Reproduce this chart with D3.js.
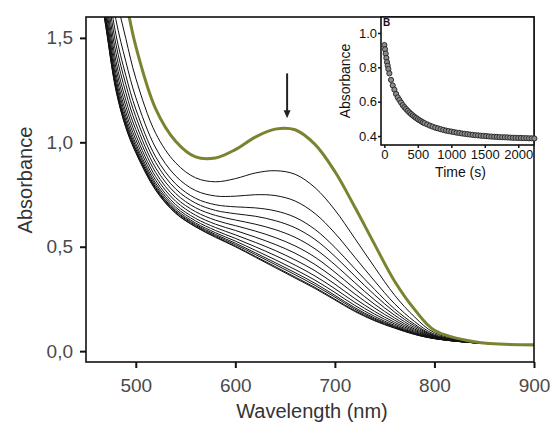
<!DOCTYPE html>
<html>
<head>
<meta charset="utf-8">
<script src="https://cdn.jsdelivr.net/npm/d3@7"></script>
<style>
  body { margin: 0; background: #fff; }
  svg { display: block; }
</style>
</head>
<body>
<svg id="chart" width="553" height="428"></svg>
<script>
// wavelength grid (nm) shared by every spectrum
const wavelengths = [460, 470, 480, 490, 500, 520, 540, 560, 580, 600, 620, 640, 660, 680, 700, 720, 740, 760, 780, 800, 840, 900];

// first spectrum (olive)
const initialSpectrum = [2.55, 2.2, 1.9, 1.68, 1.46, 1.16, 1.005, 0.93, 0.925, 0.965, 1.025, 1.063, 1.06, 0.99, 0.86, 0.69, 0.51, 0.335, 0.2, 0.1, 0.045, 0.03];

// following spectra, in time order (black)
const decaySpectra = [
  [2.34, 2.005, 1.705, 1.497, 1.307, 1.043, 0.902, 0.83, 0.811, 0.826, 0.853, 0.864, 0.847, 0.783, 0.676, 0.54, 0.401, 0.268, 0.164, 0.088, 0.044, 0.029],
  [2.214, 1.888, 1.588, 1.387, 1.215, 0.973, 0.839, 0.769, 0.743, 0.742, 0.749, 0.745, 0.719, 0.659, 0.565, 0.45, 0.335, 0.227, 0.142, 0.081, 0.043, 0.029],
  [2.137, 1.817, 1.517, 1.32, 1.159, 0.93, 0.801, 0.732, 0.701, 0.691, 0.686, 0.672, 0.641, 0.583, 0.497, 0.395, 0.295, 0.202, 0.129, 0.076, 0.042, 0.029],
  [2.088, 1.771, 1.471, 1.277, 1.123, 0.903, 0.777, 0.709, 0.674, 0.658, 0.646, 0.625, 0.591, 0.535, 0.454, 0.36, 0.269, 0.187, 0.121, 0.074, 0.042, 0.029],
  [2.043, 1.729, 1.429, 1.238, 1.09, 0.877, 0.755, 0.687, 0.65, 0.628, 0.608, 0.582, 0.545, 0.49, 0.414, 0.328, 0.245, 0.172, 0.113, 0.071, 0.041, 0.029],
  [2.002, 1.691, 1.391, 1.202, 1.061, 0.855, 0.735, 0.668, 0.627, 0.601, 0.575, 0.544, 0.504, 0.45, 0.378, 0.299, 0.224, 0.159, 0.106, 0.069, 0.041, 0.028],
  [1.967, 1.659, 1.359, 1.172, 1.035, 0.835, 0.718, 0.651, 0.608, 0.578, 0.546, 0.511, 0.469, 0.415, 0.348, 0.274, 0.206, 0.148, 0.1, 0.067, 0.041, 0.028],
  [1.936, 1.63, 1.33, 1.145, 1.013, 0.818, 0.702, 0.636, 0.592, 0.557, 0.521, 0.482, 0.437, 0.385, 0.321, 0.252, 0.19, 0.138, 0.095, 0.065, 0.04, 0.028],
  [1.911, 1.607, 1.307, 1.123, 0.994, 0.804, 0.69, 0.624, 0.578, 0.54, 0.5, 0.458, 0.412, 0.36, 0.299, 0.234, 0.177, 0.13, 0.09, 0.063, 0.04, 0.028],
  [1.891, 1.588, 1.288, 1.105, 0.98, 0.793, 0.68, 0.614, 0.567, 0.527, 0.483, 0.438, 0.391, 0.34, 0.281, 0.219, 0.166, 0.123, 0.087, 0.062, 0.04, 0.028],
  [1.875, 1.573, 1.273, 1.092, 0.968, 0.784, 0.672, 0.607, 0.559, 0.517, 0.471, 0.424, 0.376, 0.325, 0.267, 0.208, 0.158, 0.118, 0.084, 0.061, 0.04, 0.028],
  [1.865, 1.564, 1.264, 1.083, 0.961, 0.779, 0.668, 0.602, 0.553, 0.51, 0.463, 0.415, 0.366, 0.315, 0.259, 0.201, 0.153, 0.115, 0.083, 0.061, 0.04, 0.028],
  [1.855, 1.555, 1.255, 1.074, 0.954, 0.773, 0.662, 0.597, 0.548, 0.503, 0.454, 0.405, 0.355, 0.305, 0.249, 0.194, 0.148, 0.112, 0.081, 0.06, 0.04, 0.028],
  [1.85, 1.55, 1.25, 1.07, 0.95, 0.77, 0.66, 0.595, 0.545, 0.5, 0.45, 0.4, 0.35, 0.3, 0.245, 0.19, 0.145, 0.11, 0.08, 0.06, 0.04, 0.028]
];

// arrow over the band maximum: [wavelength, top absorbance, tip absorbance]
const arrowMark = [652, 1.33, 1.115];

// inset: absorbance vs time
const kineticTimes = [0, 10, 20, 30, 40, 50, 60, 75, 100, 125, 150, 175, 200, 225, 250, 275, 300, 325, 350, 375, 400, 425, 450, 475, 500, 525, 550, 575, 600,
  640, 680, 720, 760, 800, 840, 880, 920, 960, 1000, 1040, 1080, 1120, 1160, 1200, 1240, 1280, 1320, 1360, 1400, 1440, 1480, 1520, 1560, 1600,
  1640, 1680, 1720, 1760, 1800, 1840, 1880, 1920, 1960, 2000, 2040, 2080, 2120, 2160, 2200, 2240];
const kineticAbs = [0.93, 0.905, 0.88, 0.855, 0.83, 0.81, 0.79, 0.765, 0.727, 0.695, 0.67, 0.645, 0.625, 0.61, 0.595, 0.58, 0.568, 0.557, 0.547, 0.537, 0.528, 0.52, 0.512, 0.505, 0.498, 0.492, 0.486, 0.48, 0.475,
  0.468, 0.461, 0.455, 0.449, 0.445, 0.44, 0.436, 0.432, 0.429, 0.426, 0.423, 0.42, 0.418, 0.415, 0.413, 0.411, 0.409, 0.407, 0.405, 0.404, 0.402, 0.401, 0.4, 0.398, 0.397,
  0.396, 0.395, 0.394, 0.393, 0.393, 0.392, 0.391, 0.39, 0.39, 0.389, 0.389, 0.388, 0.388, 0.387, 0.387, 0.386];

const mainXTicks = [500, 600, 700, 800, 900];
const mainYTicks = [0, 0.5, 1.0, 1.5];
const insetXTicks = [0, 500, 1000, 1500, 2000];
const insetYTicks = [0.4, 0.6, 0.8, 1.0];

const svg = d3.select("#chart");
const comma = d3.formatLocale({ decimal: ",", thousands: ".", grouping: [3], currency: ["", ""] }).format(".1f");
const dot = d3.format(".1f");

// ---- main plot ----
const mLeft = 86, mRight = 534, mTop = 17, mBottom = 362;
const x = d3.scaleLinear().domain([450, 900]).range([mLeft, mRight]);
const y = d3.scaleLinear().domain([-0.052, 1.6]).range([mBottom, mTop]);

svg.append("defs").append("clipPath").attr("id", "plotClip")
  .append("rect").attr("x", mLeft).attr("y", mTop).attr("width", mRight - mLeft).attr("height", mBottom - mTop);

const line = d3.line()
  .x((d, i) => x(wavelengths[i]))
  .y(d => y(d))
  .curve(d3.curveCatmullRom.alpha(0.5));

const curves = svg.append("g").attr("clip-path", "url(#plotClip)");
curves.selectAll("path.decay")
  .data(decaySpectra)
  .enter()
  .append("path")
  .attr("class", "decay")
  .attr("d", line)
  .attr("fill", "none")
  .attr("stroke", "#111")
  .attr("stroke-width", 1);

curves.append("path")
  .attr("d", line(initialSpectrum))
  .attr("fill", "none")
  .attr("stroke", "#7b8330")
  .attr("stroke-width", 3);

// frame
svg.append("rect")
  .attr("x", mLeft).attr("y", mTop)
  .attr("width", mRight - mLeft).attr("height", mBottom - mTop)
  .attr("fill", "none").attr("stroke", "#111").attr("stroke-width", 1.6);

const xAxis = svg.append("g")
  .attr("transform", `translate(0,${mBottom})`)
  .call(d3.axisBottom(x).tickValues(mainXTicks).tickSize(6).tickPadding(11).tickFormat(d3.format("d")));
const yAxis = svg.append("g")
  .attr("transform", `translate(${mLeft},0)`)
  .call(d3.axisLeft(y).tickValues(mainYTicks).tickSize(6).tickPadding(7).tickFormat(comma));
[xAxis, yAxis].forEach(g => {
  g.select(".domain").remove();
  g.selectAll("line").attr("stroke", "#111").attr("stroke-width", 2);
  g.selectAll("text").attr("fill", "#4a4a4a").style("font-family", "Liberation Sans, Arial, sans-serif").style("font-size", "19px");
});

svg.append("text")
  .attr("x", (mLeft + mRight) / 2 + 2).attr("y", 418)
  .attr("text-anchor", "middle")
  .attr("fill", "#333")
  .style("font-family", "Liberation Sans, Arial, sans-serif").style("font-size", "20px")
  .text("Wavelength (nm)");

svg.append("text")
  .attr("transform", "translate(32,180) rotate(-90)")
  .attr("text-anchor", "middle")
  .attr("fill", "#333")
  .style("font-family", "Liberation Sans, Arial, sans-serif").style("font-size", "20px")
  .text("Absorbance");

// arrow
const ax = x(arrowMark[0]);
svg.append("line")
  .attr("x1", ax).attr("x2", ax)
  .attr("y1", y(arrowMark[1])).attr("y2", y(arrowMark[2]) - 6)
  .attr("stroke", "#222").attr("stroke-width", 2);
svg.append("path")
  .attr("d", `M${ax - 3.5},${y(arrowMark[2]) - 8} L${ax + 3.5},${y(arrowMark[2]) - 8} L${ax},${y(arrowMark[2])} Z`)
  .attr("fill", "#222");

// ---- inset ----
const iLeft = 381, iRight = 534, iTop = 17, iBottom = 145;
const ix = d3.scaleLinear().domain([-50, 2235]).range([iLeft, iRight]);
const iy = d3.scaleLinear().domain([0.348, 1.093]).range([iBottom, iTop]);

svg.append("rect")
  .attr("x", iLeft).attr("y", iTop)
  .attr("width", iRight - iLeft).attr("height", iBottom - iTop)
  .attr("fill", "#fff").attr("stroke", "#111").attr("stroke-width", 1.6);

svg.append("g")
  .selectAll("circle")
  .data(kineticTimes)
  .enter()
  .append("circle")
  .attr("cx", d => ix(d))
  .attr("cy", (d, i) => iy(kineticAbs[i]))
  .attr("r", 2.6)
  .attr("fill", "#8c8c8c")
  .attr("stroke", "#222")
  .attr("stroke-width", 0.9);

const ixAxis = svg.append("g")
  .attr("transform", `translate(0,${iBottom})`)
  .call(d3.axisBottom(ix).tickValues(insetXTicks).tickSize(3).tickPadding(2).tickFormat(d3.format("d")));
const iyAxis = svg.append("g")
  .attr("transform", `translate(${iLeft},0)`)
  .call(d3.axisLeft(iy).tickValues(insetYTicks).tickSize(3).tickPadding(1).tickFormat(dot));
[ixAxis, iyAxis].forEach(g => {
  g.select(".domain").remove();
  g.selectAll("line").attr("stroke", "#111").attr("stroke-width", 1.5);
  g.selectAll("text").attr("fill", "#111").style("font-family", "Liberation Sans, Arial, sans-serif").style("font-size", "13px");
});

svg.append("text")
  .attr("x", (iLeft + iRight) / 2 + 3).attr("y", 177)
  .attr("text-anchor", "middle")
  .attr("fill", "#111")
  .style("font-family", "Liberation Sans, Arial, sans-serif").style("font-size", "14px")
  .text("Time (s)");

svg.append("text")
  .attr("transform", `translate(350,${(iTop + iBottom) / 2}) rotate(-90)`)
  .attr("text-anchor", "middle")
  .attr("fill", "#111")
  .style("font-family", "Liberation Sans, Arial, sans-serif").style("font-size", "14px")
  .text("Absorbance");

svg.append("text")
  .attr("x", iLeft + 2).attr("y", iTop + 9)
  .attr("fill", "#111")
  .style("font-family", "Liberation Sans, Arial, sans-serif").style("font-size", "10px").style("font-weight", "bold")
  .text("B");
</script>
</body>
</html>
